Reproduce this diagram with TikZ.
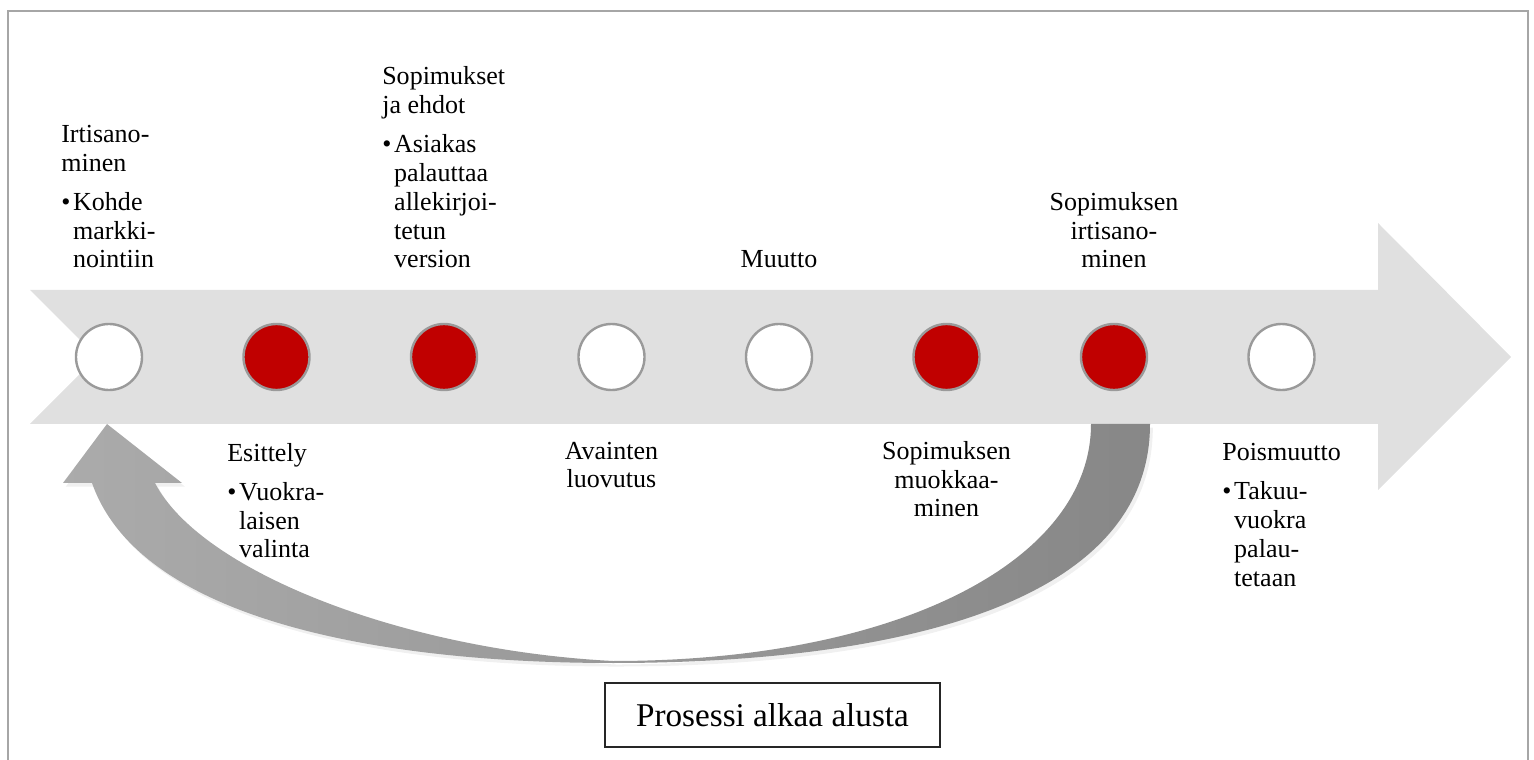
\documentclass[tikz,border=0pt]{standalone}
\usepackage{fontspec}
\setmainfont{Liberation Serif}
\usetikzlibrary{shadows}
\definecolor{bandgray}{HTML}{E0E0E0}
\definecolor{rimgray}{HTML}{9A9A9A}
\definecolor{stepred}{HTML}{C00000}
\definecolor{framegray}{HTML}{A6A6A6}
\begin{document}
\begin{tikzpicture}[x=0.025cm,y=-0.025cm,font=\fontsize{18.5}{20.6}\selectfont]
	\tikzstyle{every node}=[inner sep=0pt,text=black]
	\tikzstyle{OPEN}=[circle,draw=rimgray,line width=0.06cm,fill=white,minimum size=1.65cm] % OPEN = white step
	\tikzstyle{DONE}=[OPEN,fill=stepred] % DONE = red step
	\tikzstyle{LBL}=[anchor=base west,align=left] % label with bullet, placed at its last line
	\tikzstyle{MID}=[anchor=base,align=center] % centred label, placed at its last line
	\useasboundingbox (0,0) rectangle (1534,760);
	% frame
	\draw[framegray,line width=0.05cm] (8,770) -- (8,11) -- (1528,11) -- (1528,770);
	% timeline arrow
	\fill[bandgray] (30,290) -- (1378,290) -- (1378,223) -- (1511,357) -- (1378,490) -- (1378,424) -- (30,424) -- (97,357) -- cycle;
	% curved return arrow
	\shade[left color=black!33,right color=black!47,drop shadow={opacity=0.12,shadow xshift=2pt,shadow yshift=-2.5pt}]
		(1150,424) .. controls (1150,610) and (880,663) .. (613,663)
		.. controls (380,663) and (140,620) .. (92,483)
		-- (63,483) -- (107,424) -- (182,483) -- (155,483)
		.. controls (200,570) and (400,650) .. (613,661)
		.. controls (900,661) and (1091,560) .. (1091,424) -- cycle;
	% steps
	\node[OPEN] (c1) at (109,357) {};
	\node[DONE] (c2) at (276.5,357) {};
	\node[DONE] (c3) at (444,357) {};
	\node[OPEN] (c4) at (611.5,357) {};
	\node[OPEN] (c5) at (779,357) {};
	\node[DONE] (c6) at (946.5,357) {};
	\node[DONE] (c7) at (1114,357) {};
	\node[OPEN] (c8) at (1281.5,357) {};
	% labels above
	\node[LBL] (irtisano) at (61,268) {Irtisano-\\minen\\[7pt]\textbullet\hspace{2pt}Kohde\\\phantom{\textbullet\hspace{2pt}}markki-\\\phantom{\textbullet\hspace{2pt}}nointiin};
	\node[LBL] (sopimukset) at (382,268) {Sopimukset\\ja ehdot\\[7pt]\textbullet\hspace{2pt}Asiakas\\\phantom{\textbullet\hspace{2pt}}palauttaa\\\phantom{\textbullet\hspace{2pt}}allekirjoi-\\\phantom{\textbullet\hspace{2pt}}tetun\\\phantom{\textbullet\hspace{2pt}}version};
	\node[MID] (muutto) at (779,268) {Muutto};
	\node[MID] (irtisanominen) at (1114,268) {Sopimuksen\\irtisano-\\minen};
	% labels below
	\node[LBL] (esittely) at (227,558) {Esittely\\[7pt]\textbullet\hspace{2pt}Vuokra-\\\phantom{\textbullet\hspace{2pt}}laisen\\\phantom{\textbullet\hspace{2pt}}valinta};
	\node[MID] (avaimet) at (611.5,488) {Avainten\\luovutus};
	\node[MID] (muokkaus) at (946.5,517) {Sopimuksen\\muokkaa-\\minen};
	\node[LBL] (poismuutto) at (1222,586) {Poismuutto\\[7pt]\textbullet\hspace{2pt}Takuu-\\\phantom{\textbullet\hspace{2pt}}vuokra\\\phantom{\textbullet\hspace{2pt}}palau-\\\phantom{\textbullet\hspace{2pt}}tetaan};
	% restart box
	\node[draw=black!85,line width=0.03cm,minimum width=8.375cm,minimum height=1.6cm,font=\fontsize{23.6}{28}\selectfont] (alusta) at (772.5,715) {Prosessi alkaa alusta};
\end{tikzpicture}
\end{document}
